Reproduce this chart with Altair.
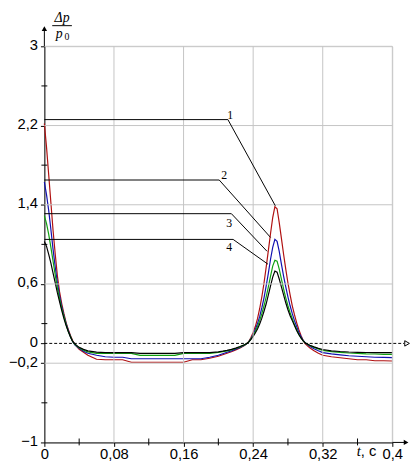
import altair as alt
import pandas as pd

# ---- data ----
t = [0, 0.0025, 0.005, 0.0075, 0.01, 0.0125, 0.015, 0.0175, 0.02,
     0.0225, 0.025, 0.0275, 0.03, 0.0325, 0.035, 0.04, 0.045, 0.05,
     0.06, 0.07, 0.08, 0.09, 0.10, 0.11, 0.12, 0.13, 0.14, 0.15, 0.16, 0.17, 0.18, 0.19, 0.20,
     0.205, 0.21, 0.215, 0.22, 0.225, 0.23, 0.2325, 0.235, 0.2375, 0.24, 0.2425, 0.245, 0.2475,
     0.25, 0.2525, 0.255, 0.2575, 0.26, 0.2625, 0.265, 0.2675, 0.27, 0.2725, 0.275, 0.2775,
     0.28, 0.2825, 0.285, 0.2875, 0.29, 0.2925, 0.295, 0.2975, 0.3,
     0.305, 0.31, 0.315, 0.32, 0.33, 0.34, 0.35, 0.36, 0.37, 0.38, 0.39, 0.4]

curve1 = [2.22, 1.98, 1.70, 1.42, 1.14, 0.90, 0.68, 0.52, 0.40,
          0.30, 0.21, 0.14, 0.08, 0.03, -0.01, -0.06, -0.09, -0.12,
          -0.16, -0.165, -0.165, -0.165, -0.19, -0.19, -0.19, -0.19, -0.19, -0.19, -0.19, -0.165, -0.165, -0.15, -0.13,
          -0.115, -0.10, -0.085, -0.065, -0.045, -0.02, -0.005, 0.02, 0.06, 0.11, 0.17, 0.25, 0.35,
          0.47, 0.61, 0.77, 0.94, 1.11, 1.27, 1.38, 1.36, 1.22, 1.06, 0.90, 0.75,
          0.61, 0.49, 0.38, 0.29, 0.21, 0.14, 0.08, 0.03, -0.005,
          -0.045, -0.075, -0.10, -0.12, -0.135, -0.145, -0.155, -0.165, -0.165, -0.175, -0.175, -0.178]

curve2 = [1.63, 1.50, 1.34, 1.15, 0.95, 0.77, 0.61, 0.48, 0.37,
          0.28, 0.20, 0.13, 0.07, 0.02, -0.015, -0.05, -0.08, -0.10,
          -0.12, -0.135, -0.14, -0.14, -0.155, -0.155, -0.155, -0.155, -0.155, -0.155, -0.155, -0.155, -0.155, -0.14, -0.12,
          -0.105, -0.09, -0.075, -0.058, -0.04, -0.018, -0.005, 0.015, 0.05, 0.09, 0.14, 0.20, 0.27,
          0.36, 0.46, 0.58, 0.71, 0.85, 0.97, 1.05, 1.03, 0.93, 0.80, 0.68, 0.57,
          0.47, 0.38, 0.30, 0.23, 0.17, 0.11, 0.07, 0.03, 0.005,
          -0.03, -0.055, -0.075, -0.093, -0.105, -0.115, -0.125, -0.13, -0.135, -0.14, -0.142, -0.143]

curve3 = [1.29, 1.21, 1.10, 0.97, 0.83, 0.69, 0.56, 0.45, 0.35,
          0.27, 0.19, 0.12, 0.07, 0.02, -0.01, -0.045, -0.07, -0.085,
          -0.10, -0.10, -0.10, -0.10, -0.10, -0.12, -0.12, -0.12, -0.12, -0.12, -0.10, -0.10, -0.10, -0.10, -0.09,
          -0.083, -0.075, -0.065, -0.052, -0.035, -0.015, -0.003, 0.015, 0.045, 0.08, 0.12, 0.17, 0.23,
          0.30, 0.38, 0.47, 0.57, 0.68, 0.78, 0.84, 0.83, 0.75, 0.65, 0.55, 0.46,
          0.38, 0.31, 0.25, 0.19, 0.14, 0.09, 0.055, 0.025, 0.005,
          -0.02, -0.04, -0.055, -0.07, -0.083, -0.09, -0.097, -0.10, -0.105, -0.107, -0.11, -0.11]

curve4 = [1.03, 0.98, 0.90, 0.81, 0.71, 0.61, 0.51, 0.42, 0.33,
          0.25, 0.18, 0.12, 0.065, 0.02, -0.005, -0.04, -0.06, -0.075,
          -0.088, -0.093, -0.093, -0.093, -0.093, -0.10, -0.10, -0.10, -0.10, -0.10, -0.093, -0.093, -0.093, -0.093, -0.085,
          -0.078, -0.07, -0.06, -0.048, -0.032, -0.013, -0.002, 0.015, 0.04, 0.07, 0.105, 0.145, 0.195,
          0.255, 0.325, 0.40, 0.49, 0.58, 0.67, 0.73, 0.72, 0.65, 0.57, 0.49, 0.41,
          0.34, 0.28, 0.23, 0.18, 0.13, 0.09, 0.055, 0.025, 0.005,
          -0.018, -0.035, -0.05, -0.062, -0.075, -0.082, -0.087, -0.09, -0.092, -0.093, -0.093, -0.093]

series_names = ["1", "2", "3", "4"]
series_colors = ["#b01010", "#1010b0", "#10a010", "#000000"]

# leader lines: horizontal from t=0 at level vh to th, then diagonal to (tt, vt)
lead_vh = [2.26, 1.65, 1.31, 1.05]
lead_th = [0.211, 0.201, 0.215, 0.217]
lead_tt = [0.2655, 0.260, 0.256, 0.257]
lead_vt = [1.39, 1.07, 0.93, 0.80]
label_t = [0.2136, 0.2068, 0.2124, 0.2124]
label_v = [2.31, 1.70, 1.22, 0.97]

x_labels = [0, 0.08, 0.16, 0.24, 0.32, 0.4]
x_grid = [0.08, 0.16, 0.24, 0.32, 0.4]
x_minor = [0.04, 0.12, 0.2, 0.28, 0.36]
y_labels = [3, 2.2, 1.4, 0.6, 0, -0.2, -1]
y_grid = [3, 2.2, 1.4, 0.6, -0.2]
y_minor = [2.6, 1.8, 1.0, 0.2, -0.6]

# ---- tables ----
rows = []
for name, vals in zip(series_names, [curve1, curve2, curve3, curve4]):
    for i, (ti, vi) in enumerate(zip(t, vals)):
        rows.append({"t": ti, "v": vi, "series": name, "idx": i})
df = pd.DataFrame(rows)

lrows = []
for name, vh, th, tt, vt in zip(series_names, lead_vh, lead_th, lead_tt, lead_vt):
    lrows += [{"t": 0, "v": vh, "s": name, "o": 0},
              {"t": th, "v": vh, "s": name, "o": 1},
              {"t": tt, "v": vt, "s": name, "o": 2}]
lead_df = pd.DataFrame(lrows)
lab_df = pd.DataFrame({"t": label_t, "v": label_v, "s": series_names})
one = pd.DataFrame({"k": [0]})
xg_df = pd.DataFrame({"t": x_grid})
yg_df = pd.DataFrame({"v": y_grid})
xm_df = pd.DataFrame({"t": x_minor})
ym_df = pd.DataFrame({"v": y_minor})
zero_df = pd.DataFrame({"v": [0]})

xscale = alt.Scale(domain=[0, 0.4], nice=False, zero=False)
yscale = alt.Scale(domain=[-1, 3], nice=False, zero=False)

FONT = "Liberation Sans"
SERIF = "Liberation Serif"
GRID = "#c4c4c4"

xaxis = alt.Axis(
    values=x_labels, title=None, grid=False,
    labelExpr="replace(toString(datum.value), '.', ',')",
    labelFont=FONT, labelFontSize=15, labelColor="#000", labelPadding=0,
    labelFlush=False, labelOverlap=False,
    domainColor="#000", tickColor="#000", tickSize=4,
)
yaxis = alt.Axis(
    values=y_labels, title=None, grid=False,
    labelExpr="replace(replace(toString(datum.value), '.', ','), '-', '\u2212')",
    labelFont=FONT, labelFontSize=15, labelColor="#000", labelPadding=3, labelOffset=-2,
    labelFlush=False, labelOverlap=False,
    domainColor="#000", tickColor="#000", tickSize=4,
)

curves = alt.Chart(df).mark_line(interpolate="linear", strokeWidth=1.2).encode(
    x=alt.X("t:Q", scale=xscale, axis=xaxis),
    y=alt.Y("v:Q", scale=yscale, axis=yaxis),
    color=alt.Color("series:N", scale=alt.Scale(domain=series_names, range=series_colors), legend=None),
    order="idx:Q",
)

xgrid = alt.Chart(xg_df).mark_rule(color=GRID, strokeWidth=1).encode(
    x="t:Q", y=alt.value(0), y2=alt.value(403))
ygrid = alt.Chart(yg_df).mark_rule(color=GRID, strokeWidth=1).encode(
    y="v:Q", x=alt.value(0), x2=alt.value(354))
xminor = alt.Chart(xm_df).mark_rule(color="#000", strokeWidth=1).encode(
    x="t:Q", y=alt.value(399), y2=alt.value(406))
yminor = alt.Chart(ym_df).mark_rule(color="#000", strokeWidth=1).encode(
    y="v:Q", x=alt.value(-3), x2=alt.value(3))

leaders = alt.Chart(lead_df).mark_line(color="#000", strokeWidth=1).encode(
    x="t:Q", y="v:Q", detail="s:N", order="o:Q")

labels = alt.Chart(lab_df).mark_text(font=SERIF, fontSize=12, color="#000").encode(
    x="t:Q", y="v:Q", text="s:N")

zero_line = alt.Chart(zero_df).mark_rule(color="#000", strokeDash=[3, 2], strokeWidth=1).encode(
    y="v:Q", x=alt.value(0), x2=alt.value(366))
zero_arrow = alt.Chart(zero_df).mark_point(shape="triangle-right", filled=False, color="#000",
                                          size=30, strokeWidth=1, opacity=1).encode(
    x=alt.value(369), y="v:Q")

yaxis_ext = alt.Chart(one).mark_rule(color="#000", strokeWidth=1).encode(
    x=alt.value(0), y=alt.value(-18), y2=alt.value(0))
yaxis_arrow = alt.Chart(one).mark_point(shape="triangle-up", filled=True, color="#000",
                                       size=30, opacity=1).encode(x=alt.value(0), y=alt.value(-18))
xaxis_ext = alt.Chart(one).mark_rule(color="#000", strokeWidth=1).encode(
    x=alt.value(354), x2=alt.value(368), y=alt.value(403))
xaxis_arrow = alt.Chart(one).mark_point(shape="triangle-right", filled=True, color="#000",
                                       size=30, opacity=1).encode(x=alt.value(368), y=alt.value(403))

t_lab = alt.Chart(one).mark_text(text="t", font=SERIF, fontStyle="italic", fontSize=15,
                                 align="right", baseline="top", color="#000").encode(
    x=alt.value(322), y=alt.value(405))
c_lab = alt.Chart(one).mark_text(text=", c", font=FONT, fontSize=15,
                                 align="left", baseline="top", color="#000").encode(
    x=alt.value(322), y=alt.value(405))

frac_top = alt.Chart(one).mark_text(text="\u0394p", font=SERIF, fontStyle="italic", fontSize=14,
                                    align="center", baseline="middle", color="#000").encode(
    x=alt.value(18), y=alt.value(-29))
frac_bar = alt.Chart(one).mark_rule(color="#000", strokeWidth=1).encode(
    x=alt.value(8), x2=alt.value(28), y=alt.value(-21))
frac_p = alt.Chart(one).mark_text(text="p", font=SERIF, fontStyle="italic", fontSize=14,
                                  align="center", baseline="middle", color="#000").encode(
    x=alt.value(15), y=alt.value(-12))
frac_0 = alt.Chart(one).mark_text(text="0", font=SERIF, fontSize=10,
                                  align="center", baseline="middle", color="#000").encode(
    x=alt.value(23), y=alt.value(-9))

chart = alt.layer(
    curves, xgrid, ygrid, zero_line, zero_arrow, leaders, labels, xminor, yminor,
    yaxis_ext, yaxis_arrow, xaxis_ext, xaxis_arrow,
    t_lab, c_lab, frac_top, frac_bar, frac_p, frac_0,
).properties(
    width=354, height=403,
    padding={"left": 37, "top": 35, "right": 19, "bottom": 20},
    autosize="none",
).configure_view(stroke=None).configure(background="white")

chart.save("out.html", embed_options={"renderer": "svg", "actions": False})
